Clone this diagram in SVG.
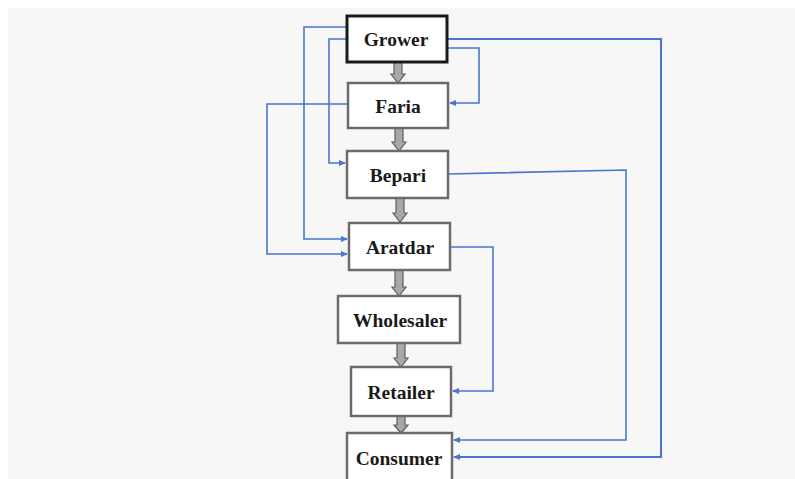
<svg xmlns="http://www.w3.org/2000/svg" width="795" height="479" viewBox="0 0 795 479">
<style>
.box{fill:#fff;stroke:#6b6b6b;stroke-width:2.5}
.top{fill:#fff;stroke:#1a1a1a;stroke-width:3}
.lbl{font-family:"Liberation Serif","Times New Roman",serif;font-weight:bold;font-size:19.5px;fill:#1a1a1a;text-anchor:middle}
.link{fill:none;stroke:#4a76d0;stroke-width:1.6;marker-end:url(#ah)}
.down{fill:#a8a8a8;stroke:#5e5e5e;stroke-width:1.2}
</style>
<defs>
<marker id="ah" markerWidth="7" markerHeight="6" refX="6" refY="3" orient="auto" markerUnits="userSpaceOnUse">
<path d="M0,0 L7,3 L0,6 Z" fill="#4a76d0"/>
</marker>
<path id="dn" d="M-4,0 H4 V-9 H7 L0,0 L-7,-9 H-4 Z"/>
</defs>
<rect x="8" y="8" width="787" height="471" fill="#f7f7f7"/>

<g id="connectors">
<!-- vertical block arrows -->
<path class="down" d="M394,62 H402 V74 H405 L398,83 L391,74 H394 Z"/>
<path class="down" d="M395,128 H403 V142 H406 L399,151 L392,142 H395 Z"/>
<path class="down" d="M396,198 H404 V213 H407 L400,222 L393,213 H396 Z"/>
<path class="down" d="M395,270 H403 V287 H406 L399,296 L392,287 H395 Z"/>
<path class="down" d="M397,343 H405 V358 H408 L401,367 L394,358 H397 Z"/>
<path class="down" d="M397,416 H405 V425 H408 L401,433 L394,425 H397 Z"/>
<!-- blue links -->
<polyline class="link" style="stroke-width:2" points="447,39 661,39 661,457 454,457"/>
<polyline class="link" points="447,48 479,48 479,103 450,103"/>
<polyline class="link" points="448,174 626,170 626,440 454,440"/>
<polyline class="link" points="450,247 493,247 493,391 453,391"/>
<polyline class="link" points="347,27 304,27 304,239 347,239"/>
<polyline class="link" points="347,39 329,39 329,163 345,163"/>
<polyline class="link" points="348,104 267,104 267,254 347,254"/>
</g>

<g id="grower"><rect class="top" x="347" y="16" width="100" height="46"/><text class="lbl" x="396" y="46">Grower</text></g>
<g id="faria"><rect class="box" x="348" y="83" width="100" height="45"/><text class="lbl" x="398" y="113">Faria</text></g>
<g id="bepari"><rect class="box" x="347" y="151" width="101" height="47"/><text class="lbl" x="398" y="182">Bepari</text></g>
<g id="aratdar"><rect class="box" x="349" y="223" width="101" height="47"/><text class="lbl" x="400" y="254">Aratdar</text></g>
<g id="wholesaler"><rect class="box" x="338" y="296" width="122" height="47"/><text class="lbl" x="400" y="327">Wholesaler</text></g>
<g id="retailer"><rect class="box" x="351" y="367" width="100" height="49"/><text class="lbl" x="401" y="399">Retailer</text></g>
<g id="consumer"><rect class="box" x="347" y="433" width="105" height="50"/><text class="lbl" x="399" y="465">Consumer</text></g>
</svg>
